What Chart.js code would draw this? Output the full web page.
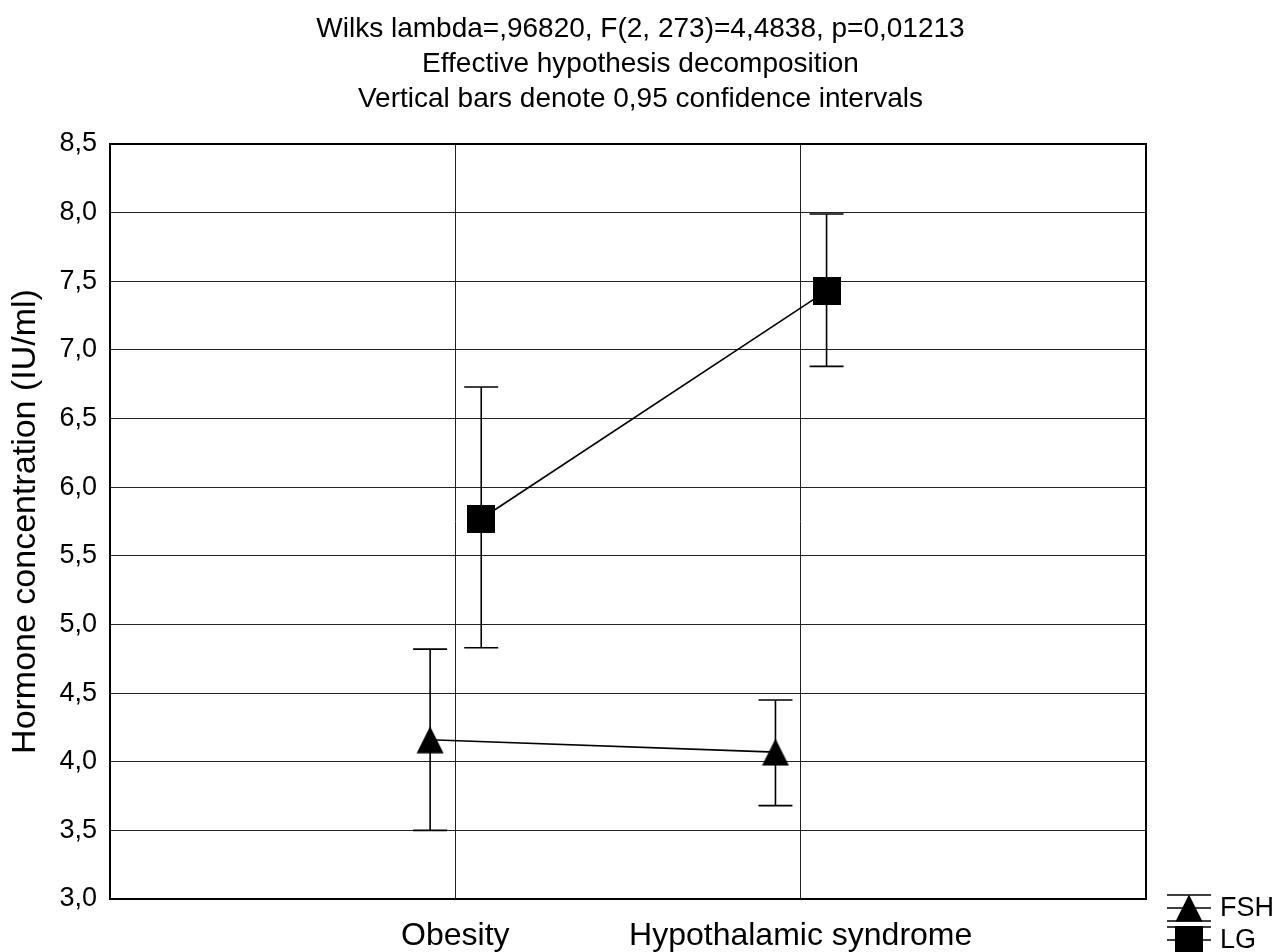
<!DOCTYPE html>
<html>
<head>
<meta charset="utf-8">
<title>Hormone concentration</title>
<script src="https://cdn.jsdelivr.net/npm/chart.js@4.4.1/dist/chart.umd.min.js"></script>
<style>
    html, body { margin: 0; padding: 0; background: #fff; }
    #chart { display: block; }
</style>
</head>
<body>
<canvas id="chart" width="1281" height="952"></canvas>
<script>
// values
const categories = ["Obesity", "Hypothalamic syndrome"];
const seriesNames = ["FSH", "LG"];

const fshMean = [4.16, 4.07];
const fshLower = [3.50, 3.68];
const fshUpper = [4.82, 4.45];

const lgMean = [5.77, 7.43];
const lgLower = [4.83, 6.88];
const lgUpper = [6.73, 7.99];

const yMin = 3.0;
const yMax = 8.5;
const yStep = 0.5;

const titleLines = [
    "Wilks lambda=,96820, F(2, 273)=4,4838, p=0,01213",
    "Effective hypothesis decomposition",
    "Vertical bars denote 0,95 confidence intervals"
];
const yTitle = "Hormone concentration (IU/ml)";

const FONT = "'Liberation Sans', Arial, Helvetica, sans-serif";

// small horizontal shift so the two series don't sit on top of each other
const fshShift = -0.073;
const lgShift = 0.075;


function makeMarker(shape) {
    const c = document.createElement("canvas");
    c.width = 28;
    c.height = 28;
    const g = c.getContext("2d");
    g.fillStyle = "#000";
    if (shape === "triangle") {
        g.beginPath();
        g.moveTo(14, 0.5);
        g.lineTo(27.5, 27.5);
        g.lineTo(0.5, 27.5);
        g.closePath();
        g.fill();
    } else {
        g.fillRect(0, 0, 28, 28);
    }
    return c;
}

function toPoints(values, shift) {
    return values.map((v, i) => ({ x: i + 1 + shift, y: v }));
}


const errorBarPlugin = {
    id: "errorBars",
    beforeDatasetsDraw(chart) {
        const ctx = chart.ctx;
        const xs = chart.scales.x;
        const ys = chart.scales.y;
        ctx.save();
        ctx.strokeStyle = "#000";
        ctx.lineWidth = 1.6;
        chart.data.datasets.forEach(ds => {
            ds.data.forEach((p, i) => {
                const x = xs.getPixelForValue(p.x);
                const top = ys.getPixelForValue(ds.upper[i]);
                const bot = ys.getPixelForValue(ds.lower[i]);
                ctx.beginPath();
                ctx.moveTo(x, top);
                ctx.lineTo(x, bot);
                ctx.moveTo(x - 17, top);
                ctx.lineTo(x + 17, top);
                ctx.moveTo(x - 17, bot);
                ctx.lineTo(x + 17, bot);
                ctx.stroke();
            });
        });
        ctx.restore();
    }
};

const framePlugin = {
    id: "frame",
    beforeDatasetsDraw(chart) {
        const a = chart.chartArea;
        const ctx = chart.ctx;
        ctx.save();
        ctx.strokeStyle = "#000";
        ctx.lineWidth = 2;
        ctx.strokeRect(a.left, a.top, a.right - a.left, a.bottom - a.top);
        ctx.restore();
    }
};

// legend in the lower right corner, errorbar-style icons
const cornerLegendPlugin = {
    id: "cornerLegend",
    afterDraw(chart) {
        const ctx = chart.ctx;
        const cx = 1189;
        ctx.save();
        ctx.strokeStyle = "#000";
        ctx.lineWidth = 1.5;
        ctx.fillStyle = "#000";
        ctx.font = "27px " + FONT;
        ctx.textBaseline = "middle";
        chart.data.datasets.forEach((ds, i) => {
            const cy = 908 + i * 32;
            ctx.beginPath();
            ctx.moveTo(cx - 22, cy - 13);
            ctx.lineTo(cx + 22, cy - 13);
            ctx.moveTo(cx - 22, cy);
            ctx.lineTo(cx + 22, cy);
            ctx.moveTo(cx - 22, cy + 13);
            ctx.lineTo(cx + 22, cy + 13);
            ctx.stroke();
            const img = ds.pointStyle;
            ctx.drawImage(img, cx - img.width / 2, cy - img.height / 2);
            ctx.fillText(ds.label, 1220, cy + 1);
        });
        ctx.restore();
    }
};


const config = {
    type: "line",
    data: {
        datasets: [
            {
                label: seriesNames[0],
                data: toPoints(fshMean, fshShift),
                lower: fshLower,
                upper: fshUpper,
                borderColor: "#000",
                borderWidth: 1.6,
                pointStyle: makeMarker("triangle"),
                pointRadius: 14,
                tension: 0
            },
            {
                label: seriesNames[1],
                data: toPoints(lgMean, lgShift),
                lower: lgLower,
                upper: lgUpper,
                borderColor: "#000",
                borderWidth: 1.6,
                pointStyle: makeMarker("square"),
                pointRadius: 14,
                tension: 0
            }
        ]
    },
    options: {
        responsive: false,
        devicePixelRatio: 1,
        animation: false,
        layout: { padding: 0 },
        plugins: {
            legend: { display: false },
            tooltip: { enabled: false },
            title: {
                display: true,
                text: titleLines,
                color: "#000",
                font: { family: FONT, size: 28, weight: "normal", lineHeight: "35px" },
                padding: { top: 12, bottom: 27 }
            }
        },
        scales: {
            x: {
                type: "linear",
                min: 0,
                max: categories.length + 1,
                afterBuildTicks: scale => {
                    scale.ticks = categories.map((c, i) => ({ value: i + 1 }));
                },
                afterFit: scale => { scale.height = 53; },
                ticks: {
                    callback: v => categories[v - 1] || "",
                    color: "#000",
                    font: { family: FONT, size: 32 },
                    padding: 18,
                    maxRotation: 0,
                    autoSkip: false
                },
                grid: { color: "#222", lineWidth: 1, drawTicks: false },
                border: { display: false }
            },
            y: {
                min: yMin,
                max: yMax,
                afterFit: scale => { scale.width = 110; },
                ticks: {
                    stepSize: yStep,
                    callback: v => v.toFixed(1).replace(".", ","),
                    color: "#000",
                    font: { family: FONT, size: 27 },
                    padding: 13
                },
                grid: { color: "#222", lineWidth: 1, drawTicks: false },
                border: { display: false },
                title: {
                    display: true,
                    text: yTitle,
                    color: "#000",
                    font: { family: FONT, size: 34 },
                    padding: { top: 5, bottom: 0 }
                }
            },
            // empty right axis only reserves room for the legend
            yRight: {
                position: "right",
                min: yMin,
                max: yMax,
                afterFit: scale => { scale.width = 135; },
                ticks: { display: false },
                grid: { display: false, drawTicks: false },
                border: { display: false }
            }
        }
    },
    plugins: [framePlugin, errorBarPlugin, cornerLegendPlugin]
};

new Chart(document.getElementById("chart"), config);
</script>
</body>
</html>
